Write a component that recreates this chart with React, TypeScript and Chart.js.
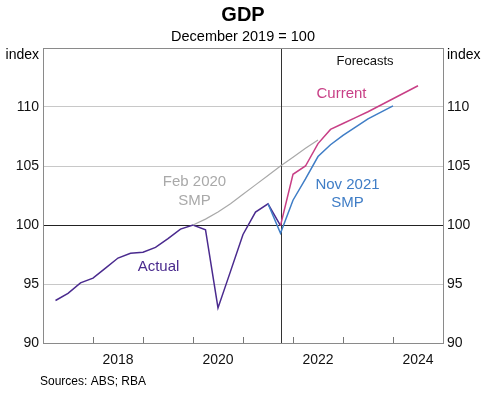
import React, { useEffect, useRef } from "react";
import { Chart, registerables } from "chart.js";

Chart.register(...registerables);

// Quarter-end dates (decimal years) are derived from these labels
const actualQuarters = [
  "Mar 2017", "Jun 2017", "Sep 2017", "Dec 2017",
  "Mar 2018", "Jun 2018", "Sep 2018", "Dec 2018",
  "Mar 2019", "Jun 2019", "Sep 2019", "Dec 2019",
  "Mar 2020", "Jun 2020", "Sep 2020", "Dec 2020",
  "Mar 2021", "Jun 2021", "Sep 2021",
];
const actualValues = [
  93.6, 94.2, 95.1, 95.5, 96.35, 97.2, 97.6, 97.7, 98.1, 98.85, 99.65, 100.0,
  99.6, 92.97, 96.07, 99.2, 101.1, 101.8, 99.95,
];

const feb2020Quarters = [
  "Dec 2019", "Mar 2020", "Jun 2020", "Sep 2020", "Dec 2020", "Mar 2021",
  "Jun 2021", "Sep 2021", "Dec 2021", "Mar 2022", "Jun 2022",
];
const feb2020Values = [100.0, 100.5, 101.1, 101.8, 102.6, 103.4, 104.2, 105.0, 105.75, 106.5, 107.2];

const nov2021Quarters = [
  "Jun 2021", "Sep 2021", "Dec 2021", "Mar 2022", "Jun 2022", "Sep 2022",
  "Dec 2022", "Mar 2023", "Jun 2023", "Sep 2023", "Dec 2023",
];
const nov2021Values = [101.8, 99.3, 102.1, 103.9, 105.8, 106.8, 107.6, 108.3, 109.0, 109.55, 110.1];

const currentQuarters = [
  "Sep 2021", "Dec 2021", "Mar 2022", "Jun 2022", "Sep 2022", "Dec 2022",
  "Mar 2023", "Jun 2023", "Sep 2023", "Dec 2023", "Mar 2024", "Jun 2024",
];
const currentValues = [99.95, 104.3, 105.0, 106.9, 108.1, 108.6, 109.1, 109.6, 110.15, 110.7, 111.25, 111.8];

const xTickYears = [2018, 2020, 2022, 2024];
const yTicks = [90, 95, 100, 105, 110, 115];
const forecastStart = "Sep 2021";

const monthEnd: Record<string, number> = { Mar: 0.25, Jun: 0.5, Sep: 0.75, Dec: 1.0 };
const toYear = (q: string) => {
  const [m, y] = q.split(" ");
  return Number(y) + monthEnd[m];
};
const toPoints = (qs: string[], vs: number[]) => qs.map((q, i) => ({ x: toYear(q), y: vs[i] }));

const FONT = "'Liberation Sans', Arial, Helvetica, sans-serif";

const PURPLE = "#4a2a8e";
const PINK = "#c83f86";
const BLUE = "#3f7dc6";
const GREY = "#a9a9a9";

const annotations = [
  { text: "Actual", x: 2019.31, y: 96.49, color: PURPLE, size: 15 },
  { text: "Current", x: 2022.97, y: 111.1, color: PINK, size: 15 },
  { text: "Nov 2021", x: 2023.09, y: 103.36, color: BLUE, size: 15 },
  { text: "SMP", x: 2023.09, y: 101.86, color: BLUE, size: 15 },
  { text: "Feb 2020", x: 2020.03, y: 103.64, color: GREY, size: 15 },
  { text: "SMP", x: 2020.03, y: 102.08, color: GREY, size: 15 },
  { text: "Forecasts", x: 2023.44, y: 113.84, color: "#111", size: 13 },
];

const decorPlugin = {
  id: "decor",
  beforeDatasetsDraw(chart: any) {
    const { ctx, chartArea, scales } = chart;
    const { left, right, top, bottom } = chartArea;
    ctx.save();
    // inner tick marks at each year
    ctx.strokeStyle = "#777";
    ctx.lineWidth = 1;
    for (let yr = 2018; yr <= 2024; yr++) {
      const px = Math.round(scales.x.getPixelForValue(yr)) + 0.5;
      ctx.beginPath();
      ctx.moveTo(px, bottom);
      ctx.lineTo(px, bottom - 6);
      ctx.stroke();
    }
    // forecast divider
    const fx = Math.round(scales.x.getPixelForValue(toYear(forecastStart))) + 0.5;
    ctx.strokeStyle = "#333";
    ctx.beginPath();
    ctx.moveTo(fx, top);
    ctx.lineTo(fx, bottom);
    ctx.stroke();
    // plot border
    ctx.strokeStyle = "#8a8a8a";
    ctx.strokeRect(Math.round(left) + 0.5, Math.round(top) + 0.5, Math.round(right - left), Math.round(bottom - top));
    ctx.restore();
  },
  afterDraw(chart: any) {
    const { ctx, chartArea, scales } = chart;
    ctx.save();
    ctx.textAlign = "center";
    ctx.textBaseline = "middle";
    ctx.fillStyle = "#000";
    ctx.font = `bold 20px ${FONT}`;
    ctx.fillText("GDP", 243, 15);
    ctx.font = `14.5px ${FONT}`;
    ctx.fillText("December 2019 = 100", 243, 37);
    ctx.font = `14px ${FONT}`;
    ctx.textAlign = "right";
    ctx.fillText("index", chartArea.left - 4, chartArea.top + 7);
    ctx.textAlign = "left";
    ctx.fillText("index", chartArea.right + 4, chartArea.top + 7);
    ctx.textAlign = "left";
    ctx.font = `12px ${FONT}`;
    ctx.fillText("Sources: ABS; RBA", 40, 382);
    ctx.textAlign = "center";
    for (const a of annotations) {
      ctx.font = `${a.size}px ${FONT}`;
      ctx.fillStyle = a.color;
      ctx.fillText(a.text, scales.x.getPixelForValue(a.x), scales.y.getPixelForValue(a.y));
    }
    ctx.restore();
  },
};

export default function App() {
  const ref = useRef<HTMLCanvasElement | null>(null);
  useEffect(() => {
    if (!ref.current) return;
    const yTickOpts = {
      color: "#111",
      font: { family: FONT, size: 14 },
      padding: 4,
      callback: (v: any) => (v === 115 ? "" : String(v)),
    };
    const chart = new Chart(ref.current, {
      type: "line",
      data: {
        datasets: [
          { data: toPoints(feb2020Quarters, feb2020Values), borderColor: GREY, borderWidth: 1.2 },
          { data: toPoints(currentQuarters, currentValues), borderColor: PINK, borderWidth: 1.5 },
          { data: toPoints(nov2021Quarters, nov2021Values), borderColor: BLUE, borderWidth: 1.5 },
          { data: toPoints(actualQuarters, actualValues), borderColor: PURPLE, borderWidth: 1.5 },
        ].map((d) => ({ ...d, pointRadius: 0, fill: false, tension: 0 })),
      },
      options: {
        responsive: false,
        animation: false,
        layout: { padding: { top: 48, left: 0, right: 0, bottom: 0 } },
        plugins: { legend: { display: false }, tooltip: { enabled: false }, title: { display: false } },
        scales: {
          x: {
            type: "linear",
            min: 2017,
            max: 2025,
            afterBuildTicks: (s: any) => {
              s.ticks = xTickYears.map((y) => ({ value: y + 0.5 }));
            },
            ticks: {
              autoSkip: false,
              maxRotation: 0,
              color: "#111",
              font: { family: FONT, size: 14 },
              padding: 1,
              callback: (v: any) => String(Math.floor(Number(v))),
            },
            grid: { display: false },
            border: { display: false },
            afterFit: (s: any) => {
              s.height = 58;
            },
          },
          y: {
            position: "left",
            min: 90,
            max: 115,
            afterBuildTicks: (s: any) => {
              s.ticks = yTicks.map((v) => ({ value: v }));
            },
            ticks: yTickOpts,
            grid: {
              drawTicks: false,
              lineWidth: 1,
              color: (c: any) =>
                c.tick && c.tick.value === 100
                  ? "#222"
                  : c.tick && (c.tick.value === 90 || c.tick.value === 115)
                  ? "rgba(0,0,0,0)"
                  : "#c8c8c8",
            },
            border: { display: false },
            afterFit: (s: any) => {
              s.width = 43;
            },
          },
          y2: {
            position: "right",
            min: 90,
            max: 115,
            afterBuildTicks: (s: any) => {
              s.ticks = yTicks.map((v) => ({ value: v }));
            },
            ticks: yTickOpts,
            grid: { display: false, drawTicks: false },
            border: { display: false },
            afterFit: (s: any) => {
              s.width = 57;
            },
          },
        },
      } as any,
      plugins: [decorPlugin],
    });
    return () => chart.destroy();
  }, []);
  return (
    <div style={{ position: "fixed", left: 0, top: 0, width: 500, height: 401, background: "#fff" }}>
      <canvas ref={ref} width={500} height={401} style={{ width: 500, height: 401 }} />
    </div>
  );
}
